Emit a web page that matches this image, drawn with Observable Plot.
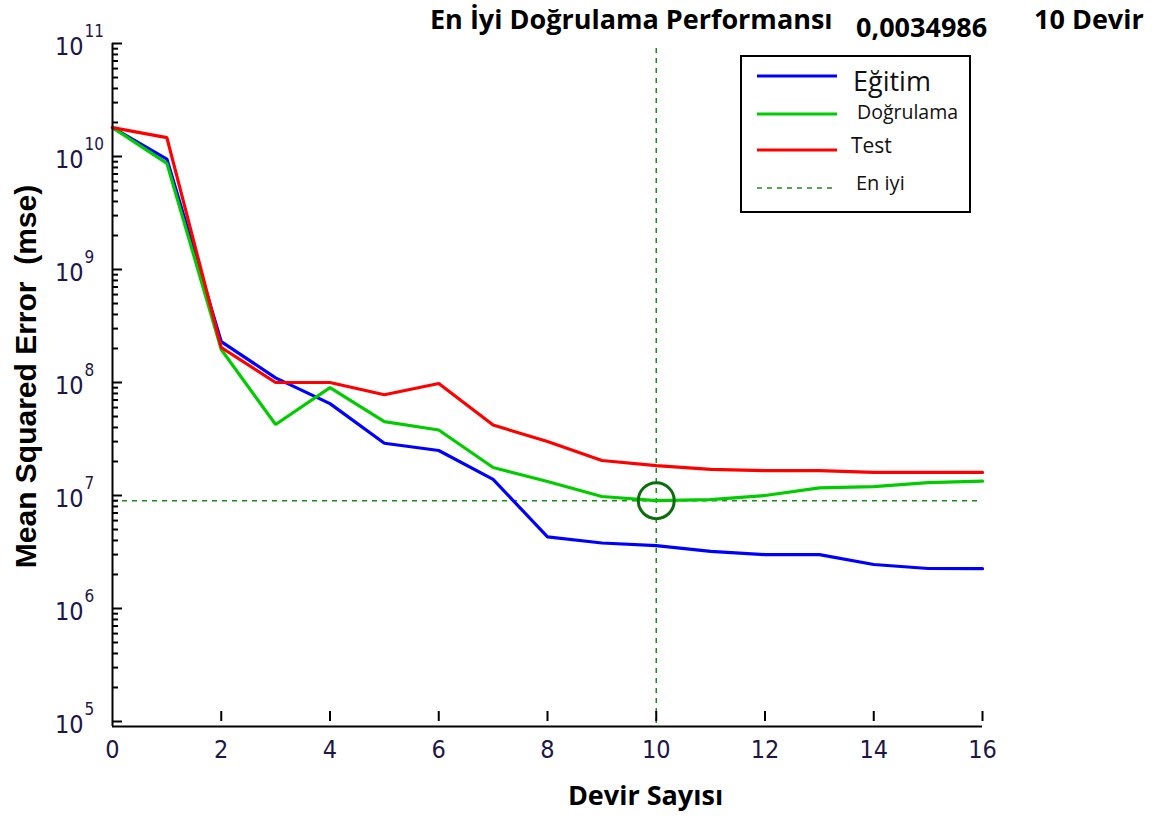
<!DOCTYPE html>
<html>
<head>
<meta charset="utf-8">
<script src="https://cdn.jsdelivr.net/npm/d3@7"></script>
<script src="https://cdn.jsdelivr.net/npm/@observablehq/plot@0.6"></script>
<style>
  html, body { margin: 0; padding: 0; background: #fff; }
  #wrap { position: relative; width: 1161px; height: 826px; overflow: hidden; }
  #wrap svg.plot { position: absolute; left: 0; top: 0; }
  .t { position: absolute; white-space: nowrap; font-family: "Open Sans", Lato, sans-serif; font-weight: 700; color: #000; line-height: 1; }
  #legend { position: absolute; left: 740px; top: 55px; width: 231px; height: 158px; box-sizing: border-box; border: 2px solid #000; background: #fff; }
  .cond { font-stretch: condensed; }
</style>
</head>
<body>
<div id="wrap">
  <div class="t" id="title1" style="left:430px; top:5px; font-size:27px;">En İyi Doğrulama Performansı</div>
  <div class="t" id="title2" style="left:856px; top:13px; font-size:27px;">0,0034986</div>
  <div class="t" id="title3" style="left:1034px; top:5px; font-size:27px;">10 Devir</div>
  <div id="legend"></div>
</div>
<script>
// ---- data ----
const epochs = [0, 1, 2, 3, 4, 5, 6, 7, 8, 9, 10, 11, 12, 13, 14, 15, 16];
const egitim = [1.8e10, 9.5e9, 2.3e8, 1.1e8, 6.5e7, 2.9e7, 2.5e7, 1.39e7, 4.3e6, 3.8e6, 3.6e6, 3.2e6, 3.0e6, 3.0e6, 2.45e6, 2.26e6, 2.25e6];
const dogrulama = [1.8e10, 8.7e9, 1.96e8, 4.25e7, 9.0e7, 4.5e7, 3.8e7, 1.77e7, 1.33e7, 9.8e6, 9.0e6, 9.2e6, 1.0e7, 1.17e7, 1.2e7, 1.3e7, 1.34e7];
const test = [1.8e10, 1.47e10, 2.04e8, 1.0e8, 1.0e8, 7.8e7, 9.8e7, 4.2e7, 3.0e7, 2.04e7, 1.84e7, 1.7e7, 1.66e7, 1.66e7, 1.6e7, 1.6e7, 1.6e7];
const seriesNames = ["Eğitim", "Doğrulama", "Test"];
const seriesColors = ["#0000ff", "#00cc00", "#ff0000"];
const bestEpoch = 10;
const bestValue = 9.0e6;
const bestLabel = "En iyi";
const xTicks = [0, 2, 4, 6, 8, 10, 12, 14, 16];
const yDecadeExps = [5, 6, 7, 8, 9, 10, 11];
const minorMultipliers = [2, 3, 4, 5, 6, 7, 8, 9];
const yLabel = "Mean Squared Error  (mse)";
const xLabel = "Devir Sayısı";

// ---- derived tables ----
const rows = [];
[egitim, dogrulama, test].forEach((vals, si) => {
  epochs.forEach((e, i) => rows.push({series: seriesNames[si], epoch: e, mse: vals[i]}));
});
const yMajor = yDecadeExps.map(p => Math.pow(10, p));
const yMinor = [];
yDecadeExps.slice(0, -1).forEach(p => minorMultipliers.forEach(m => yMinor.push(m * Math.pow(10, p))));

const tickFont = "'DejaVu Sans Condensed', 'Liberation Sans Narrow', 'Liberation Sans', Arial, sans-serif";
const labelColor = "#1e1646";
const bestColor = "#1a8a1a";

const chart = Plot.plot({
  width: 1161,
  height: 826,
  marginLeft: 112,
  marginRight: 179,
  marginTop: 43,
  marginBottom: 105,
  className: "plot",
  style: {background: "transparent", overflow: "visible"},
  x: {domain: [0, 16], axis: null},
  y: {type: "log", domain: [1e5, 1e11], axis: null},
  color: {domain: seriesNames, range: seriesColors},
  marks: [
    // best-epoch guides
    Plot.ruleX([bestEpoch], {x: d => d, y1: 1e5, y2: 1e11, insetTop: 2, insetBottom: -3, stroke: bestColor, strokeWidth: 1.5, strokeDasharray: "5,5"}),
    Plot.ruleY([bestValue], {y: d => d, x1: 0, x2: 16, stroke: bestColor, strokeWidth: 1.5, strokeDasharray: "5,5"}),
    // series
    Plot.line(rows, {x: "epoch", y: "mse", z: "series", stroke: "series", strokeWidth: 3.2, strokeLinejoin: "miter", curve: "linear"}),
    // best point circle
    Plot.dot([{epoch: bestEpoch, mse: bestValue}], {x: "epoch", y: "mse", r: 18, stroke: "#0b6e0b", strokeWidth: 3, fill: "none"}),
    // axes lines
    Plot.ruleX([0], {x: d => d, y1: 1e11, y2: 1e5, insetBottom: -5, stroke: "#000", strokeWidth: 2}),
    Plot.ruleY([1e5], {y: d => d, x1: 0, x2: 16, dy: 5, stroke: "#000", strokeWidth: 2}),
    // y ticks (inside)
    Plot.ruleY(yMajor, {y: d => d, x1: 0, x2: 0, insetRight: -10, stroke: "#000", strokeWidth: 2}),
    Plot.ruleY(yMinor, {y: d => d, x1: 0, x2: 0, insetRight: -6, stroke: "#000", strokeWidth: 2}),
    // x ticks (inside)
    Plot.ruleX(xTicks.slice(1), {x: d => d, y1: 1e5, y2: 1e5, insetTop: -5, insetBottom: -5, dy: -5, stroke: "#000", strokeWidth: 2}),
    // x tick labels
    Plot.text(xTicks, {x: d => d, y: 1e5, dy: 28, text: d => String(d), fontSize: 25, fontFamily: tickFont, fill: labelColor, className: "cond"}),
    // y tick labels: base and exponent
    Plot.text(yMajor, {x: 0, y: d => d, dx: -29, dy: 3, text: () => "10", textAnchor: "end", fontSize: 25, fontFamily: tickFont, fill: labelColor, className: "cond"}),
    Plot.text(yMajor, {x: 0, y: d => d, dx: -28, dy: -12, text: d => String(Math.round(Math.log10(d))), textAnchor: "start", fontSize: 17, fontFamily: tickFont, fill: labelColor, className: "cond"}),
    // axis titles
    Plot.text([yLabel], {text: d => d, frameAnchor: "left", textAnchor: "middle", rotate: -90, dx: -86, dy: -6, fontSize: 30, fontWeight: "bold", fontFamily: "'Liberation Sans', Arial, sans-serif", fill: "#000"}),
    Plot.text([xLabel], {text: d => d, frameAnchor: "bottom", textAnchor: "middle", dx: 98, dy: 83, fontSize: 27, fontWeight: "bold", fontFamily: "'Open Sans', Lato, sans-serif", fill: "#000"})
  ]
});
document.getElementById("wrap").prepend(chart);

// ---- legend ----
const legendItems = [
  {label: seriesNames[0], color: seriesColors[0], dash: null, size: 27, tx: 113, ly: 21, ty: 27},
  {label: seriesNames[1], color: seriesColors[1], dash: null, size: 19.5, tx: 117, ly: 59, ty: 58},
  {label: seriesNames[2], color: seriesColors[2], dash: null, size: 21, tx: 111, ly: 95, ty: 91},
  {label: bestLabel, color: bestColor, dash: "5,5", size: 20, tx: 116, ly: 133, ty: 129}
];
const lsvg = d3.select("#legend").append("svg").attr("width", 227).attr("height", 154).style("display", "block");
legendItems.forEach(it => {
  lsvg.append("line").attr("x1", 15).attr("x2", 95).attr("y1", it.ly - 2).attr("y2", it.ly - 2)
    .attr("stroke", it.color).attr("stroke-width", it.dash ? 1.5 : 3.2).attr("stroke-dasharray", it.dash);
  lsvg.append("text").attr("x", it.tx - 2).attr("y", it.ty - 2).attr("dy", "0.32em")
    .attr("font-family", "'Open Sans', Lato, sans-serif").attr("font-size", it.size).attr("fill", "#111").text(it.label);
});
</script>
</body>
</html>
